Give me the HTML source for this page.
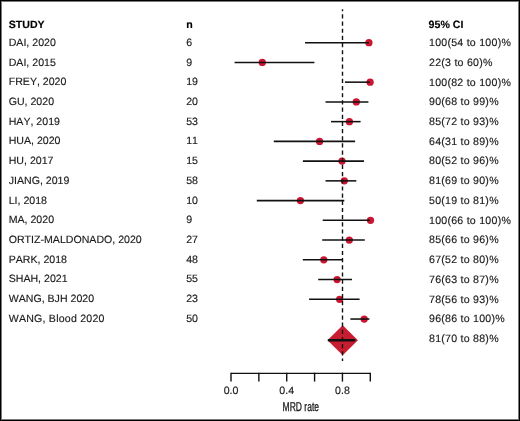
<!DOCTYPE html>
<html><head><meta charset="utf-8"><style>
html,body{margin:0;padding:0;background:#fff;}
body{width:520px;height:421px;overflow:hidden;position:relative;}
svg{position:absolute;left:0;top:0;}
#tx{filter:grayscale(1);}
.t{font-family:"Liberation Sans",sans-serif;font-kerning:none;text-rendering:geometricPrecision;font-size:10.6px;fill:#1a1a1a;stroke:#1a1a1a;stroke-width:0.15px;}
.b{font-weight:bold;fill:#000;stroke:#000;}
.ci{letter-spacing:0.25px;}
</style></head><body>
<svg width="520" height="421" viewBox="0 0 520 421">
<rect x="0" y="0" width="520" height="421" fill="#fff"/>

<circle cx="368.90" cy="42.68" r="3.65" fill="#cc1530"/>
<line x1="305.00" y1="42.68" x2="368.90" y2="42.68" stroke="#111" stroke-width="1.55"/>
<circle cx="262.30" cy="62.42" r="3.65" fill="#cc1530"/>
<line x1="234.60" y1="62.42" x2="314.40" y2="62.42" stroke="#111" stroke-width="1.55"/>
<circle cx="370.10" cy="82.16" r="3.65" fill="#cc1530"/>
<line x1="344.90" y1="82.16" x2="369.70" y2="82.16" stroke="#111" stroke-width="1.55"/>
<circle cx="356.30" cy="101.90" r="3.65" fill="#cc1530"/>
<line x1="325.50" y1="101.90" x2="368.40" y2="101.90" stroke="#111" stroke-width="1.55"/>
<circle cx="349.40" cy="121.64" r="3.65" fill="#cc1530"/>
<line x1="331.00" y1="121.64" x2="360.60" y2="121.64" stroke="#111" stroke-width="1.55"/>
<circle cx="319.60" cy="141.38" r="3.65" fill="#cc1530"/>
<line x1="273.80" y1="141.38" x2="355.10" y2="141.38" stroke="#111" stroke-width="1.55"/>
<circle cx="342.00" cy="161.12" r="3.65" fill="#cc1530"/>
<line x1="302.90" y1="161.12" x2="364.00" y2="161.12" stroke="#111" stroke-width="1.55"/>
<circle cx="344.30" cy="180.86" r="3.65" fill="#cc1530"/>
<line x1="325.50" y1="180.86" x2="356.30" y2="180.86" stroke="#111" stroke-width="1.55"/>
<circle cx="300.40" cy="200.60" r="3.65" fill="#cc1530"/>
<line x1="256.80" y1="200.60" x2="344.30" y2="200.60" stroke="#111" stroke-width="1.55"/>
<circle cx="370.50" cy="220.34" r="3.65" fill="#cc1530"/>
<line x1="322.70" y1="220.34" x2="369.90" y2="220.34" stroke="#111" stroke-width="1.55"/>
<circle cx="349.30" cy="240.08" r="3.65" fill="#cc1530"/>
<line x1="322.20" y1="240.08" x2="364.80" y2="240.08" stroke="#111" stroke-width="1.55"/>
<circle cx="323.80" cy="259.82" r="3.65" fill="#cc1530"/>
<line x1="302.80" y1="259.82" x2="342.50" y2="259.82" stroke="#111" stroke-width="1.55"/>
<circle cx="337.10" cy="279.56" r="3.65" fill="#cc1530"/>
<line x1="318.20" y1="279.56" x2="352.00" y2="279.56" stroke="#111" stroke-width="1.55"/>
<circle cx="339.60" cy="299.30" r="3.65" fill="#cc1530"/>
<line x1="309.10" y1="299.30" x2="359.60" y2="299.30" stroke="#111" stroke-width="1.55"/>
<circle cx="364.20" cy="319.04" r="3.65" fill="#cc1530"/>
<line x1="350.40" y1="319.04" x2="369.40" y2="319.04" stroke="#111" stroke-width="1.55"/>
<polygon points="342.7,325.3 357.9,340.2 342.7,355.2 327.5,340.2" fill="#c81d31"/>
<line x1="328.80" y1="340.25" x2="354.30" y2="340.25" stroke="#111" stroke-width="2.3" stroke-linecap="round"/>
<line x1="342.5" y1="9.3" x2="342.5" y2="361" stroke="#111" stroke-width="1.4" stroke-dasharray="4.2 2.97" stroke-dashoffset="2.17"/>
<path d="M231 373.4 H370.3" stroke="#111" stroke-width="1.4" fill="none"/>
<line x1="231.00" y1="372.7" x2="231.00" y2="381.6" stroke="#111" stroke-width="1.4"/>
<line x1="258.86" y1="372.7" x2="258.86" y2="381.6" stroke="#111" stroke-width="1.4"/>
<line x1="286.72" y1="372.7" x2="286.72" y2="381.6" stroke="#111" stroke-width="1.4"/>
<line x1="314.58" y1="372.7" x2="314.58" y2="381.6" stroke="#111" stroke-width="1.4"/>
<line x1="342.44" y1="372.7" x2="342.44" y2="381.6" stroke="#111" stroke-width="1.4"/>
<line x1="370.30" y1="372.7" x2="370.30" y2="381.6" stroke="#111" stroke-width="1.4"/>
<rect x="0.5" y="0.5" width="519" height="420" fill="none" stroke="#000" stroke-width="1"/>
<rect x="1.5" y="1.5" width="517" height="418" fill="none" stroke="#000" stroke-opacity="0.52" stroke-width="1"/>
</svg>
<svg id="tx" width="520" height="421" viewBox="0 0 520 421">
<text class="t b" x="8.7" y="27.9">STUDY</text>
<text class="t b" x="186.2" y="27.9">n</text>
<text class="t b" x="428.6" y="27.9">95% CI</text>
<text class="t" x="8.7" y="45.85">DAI, 2020</text>
<text class="t" x="186.2" y="45.85">6</text>
<text class="t ci" x="429" y="46.15">100(54 to 100)%</text>
<text class="t" x="8.7" y="65.57">DAI, 2015</text>
<text class="t" x="186.2" y="65.57">9</text>
<text class="t ci" x="429" y="65.87">22(3 to 60)%</text>
<text class="t" x="8.7" y="85.29">FREY, 2020</text>
<text class="t" x="186.2" y="85.29">19</text>
<text class="t ci" x="429" y="85.59">100(82 to 100)%</text>
<text class="t" x="8.7" y="105.01">GU, 2020</text>
<text class="t" x="186.2" y="105.01">20</text>
<text class="t ci" x="429" y="105.31">90(68 to 99)%</text>
<text class="t" x="8.7" y="124.73">HAY, 2019</text>
<text class="t" x="186.2" y="124.73">53</text>
<text class="t ci" x="429" y="125.03">85(72 to 93)%</text>
<text class="t" x="8.7" y="144.45">HUA, 2020</text>
<text class="t" x="186.2" y="144.45">11</text>
<text class="t ci" x="429" y="144.75">64(31 to 89)%</text>
<text class="t" x="8.7" y="164.17">HU, 2017</text>
<text class="t" x="186.2" y="164.17">15</text>
<text class="t ci" x="429" y="164.47">80(52 to 96)%</text>
<text class="t" x="8.7" y="183.89">JIANG, 2019</text>
<text class="t" x="186.2" y="183.89">58</text>
<text class="t ci" x="429" y="184.19">81(69 to 90)%</text>
<text class="t" x="8.7" y="203.61">LI, 2018</text>
<text class="t" x="186.2" y="203.61">10</text>
<text class="t ci" x="429" y="203.91">50(19 to 81)%</text>
<text class="t" x="8.7" y="223.33">MA, 2020</text>
<text class="t" x="186.2" y="223.33">9</text>
<text class="t ci" x="429" y="223.63">100(66 to 100)%</text>
<text class="t" x="8.7" y="243.05">ORTIZ-MALDONADO, 2020</text>
<text class="t" x="186.2" y="243.05">27</text>
<text class="t ci" x="429" y="243.35">85(66 to 96)%</text>
<text class="t" x="8.7" y="262.77">PARK, 2018</text>
<text class="t" x="186.2" y="262.77">48</text>
<text class="t ci" x="429" y="263.07">67(52 to 80)%</text>
<text class="t" x="8.7" y="282.49">SHAH, 2021</text>
<text class="t" x="186.2" y="282.49">55</text>
<text class="t ci" x="429" y="282.79">76(63 to 87)%</text>
<text class="t" x="8.7" y="302.21">WANG, BJH 2020</text>
<text class="t" x="186.2" y="302.21">23</text>
<text class="t ci" x="429" y="302.51">78(56 to 93)%</text>
<text class="t" x="8.7" y="321.93" style="letter-spacing:0.22px">WANG, Blood 2020</text>
<text class="t" x="186.2" y="321.93">50</text>
<text class="t ci" x="429" y="322.23">96(86 to 100)%</text>
<text class="t ci" x="429" y="341.95">81(70 to 88)%</text>
<text class="t" x="231.00" y="393.9" text-anchor="middle">0.0</text>
<text class="t" x="286.72" y="393.9" text-anchor="middle">0.4</text>
<text class="t" x="342.44" y="393.9" text-anchor="middle">0.8</text>
<text class="t" transform="translate(300.8,411.4) scale(0.66,1)" x="0" y="0" text-anchor="middle" style="font-size:12.9px;stroke:#222;stroke-width:0.35px">MRD rate</text>
</svg></body></html>
